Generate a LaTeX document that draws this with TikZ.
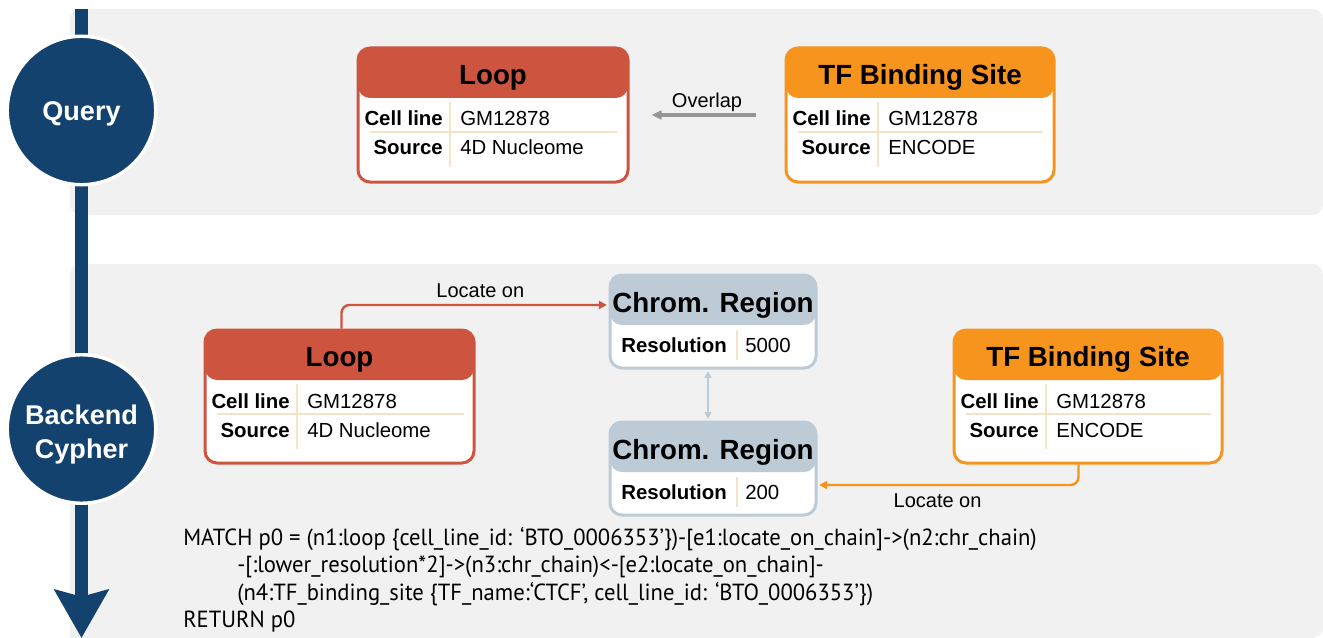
\documentclass[tikz,border=0pt]{standalone}
\usepackage{fontspec}
\setmainfont{Liberation Sans}
\newfontfamily\cypherfont[FakeStretch=0.97]{PT Sans}
\usetikzlibrary{arrows.meta, positioning}

\definecolor{navy}{RGB}{20,66,110}
\definecolor{looprd}{RGB}{205,85,64}
\definecolor{tforg}{RGB}{247,148,30}
\definecolor{chromgr}{RGB}{188,203,214}
\definecolor{panelgr}{RGB}{241,241,241}
\definecolor{rulebg}{RGB}{242,228,196}
\definecolor{overgr}{RGB}{150,150,150}

\begin{document}
\begin{tikzpicture}[x=0.75pt, y=-0.75pt,
  entity/.style={draw=#1, fill=white, line width=2.25pt, rounded corners=9pt, inner sep=0pt,
    path picture={\fill[#1] (path picture bounding box.north west) rectangle ([yshift=-37.5pt]path picture bounding box.north east);}},
  headtext/.style={anchor=base, inner sep=0pt, font=\fontsize{20.8}{24}\selectfont\bfseries},
  keytext/.style={anchor=base east, inner sep=0pt, font=\fontsize{15.3}{18}\selectfont\bfseries},
  valtext/.style={anchor=base west, inner sep=0pt, font=\fontsize{15.3}{18}\selectfont},
  rowrule/.style={draw=rulebg, line width=1pt},
  stagedot/.style={circle, fill=navy, draw=white, line width=2.6pt, minimum size=111.4pt, inner sep=0pt},
  dotlabel/.style={text=white, align=center, inner sep=0pt, font=\fontsize{20.3}{26}\selectfont\bfseries},
  linklabel/.style={font=\fontsize{15}{18}\selectfont, text depth=0pt, inner sep=4.5pt},
  locate/.style={draw=#1, line width=1.8pt, rounded corners=6pt, -{Triangle[length=6pt,width=6pt]}},
  cyphertext/.style={anchor=base west, inner sep=0pt, font=\cypherfont\fontsize{17.5}{20}\selectfont}]
\useasboundingbox (0,0) rectangle (1323,638);

% panels
\fill[panelgr, rounded corners=8pt] (70,9) rectangle (1323,215);
\fill[panelgr, rounded corners=8pt] (70,638) -- (70,264) -- (1323,264) -- (1323,638) [sharp corners] -- cycle;

% time line
\draw[navy, line width=9.75pt, -{Stealth[length=36pt,width=40pt,inset=5pt]}] (81.5,9) -- (81.5,638);
\node[stagedot] (query) at (81.5,110.5) {};
\node[dotlabel] at ([yshift=-2.5pt]query.center) {Query};
\node[stagedot] (backend) at (81.5,429) {};
\node[dotlabel] at ([yshift=-4pt]backend.center) {Backend\\Cypher};

% query
\node[entity=looprd, minimum width=202.5pt, minimum height=100.5pt] (loopq) at (493,115) {};
\node[headtext] at (493,85) {Loop};
\node[keytext] at (443,126) {Cell line};
\node[valtext] at (460,126) {GM12878};
\node[keytext] at (443,155) {Source};
\node[valtext] at (460,155) {4D Nucleome};
\draw[rowrule] (450,102) -- (450,167);
\draw[rowrule] (370,132) -- (617,132);

\node[entity=tforg, minimum width=201pt, minimum height=100.5pt] (tfq) at (920,115) {};
\node[headtext] at (920,85) {TF Binding Site};
\node[keytext] at (871,126) {Cell line};
\node[valtext] at (888,126) {GM12878};
\node[keytext] at (871,155) {Source};
\node[valtext] at (888,155) {ENCODE};
\draw[rowrule] (878,102) -- (878,167);
\draw[rowrule] (798,132) -- (1043,132);

\draw[draw=overgr, line width=2.5pt, -{Triangle[length=7.5pt,width=6.5pt]}, shorten <=21.75pt, shorten >=16.5pt]
  (tfq.west) -- node[linklabel, above] {Overlap} (loopq.east);

% backend
\node[entity=looprd, minimum width=201.75pt, minimum height=99.75pt] (loopb) at (339.5,396.5) {};
\node[headtext] at (339.5,366) {Loop};
\node[keytext] at (290,408) {Cell line};
\node[valtext] at (307,408) {GM12878};
\node[keytext] at (290,437) {Source};
\node[valtext] at (307,437) {4D Nucleome};
\draw[rowrule] (297,384) -- (297,449);
\draw[rowrule] (217,414) -- (464,414);

\node[entity=tforg, minimum width=201pt, minimum height=99.75pt] (tfb) at (1088,396.5) {};
\node[headtext] at (1088,366) {TF Binding Site};
\node[keytext] at (1039,408) {Cell line};
\node[valtext] at (1056,408) {GM12878};
\node[keytext] at (1039,437) {Source};
\node[valtext] at (1056,437) {ENCODE};
\draw[rowrule] (1046,384) -- (1046,449);
\draw[rowrule] (966,414) -- (1211,414);

\node[entity=chromgr, minimum width=154.5pt, minimum height=69.75pt] (chromhi) at (713,321.5) {};
\node[headtext] at (713,312) {Chrom. Region};
\node[keytext] at (727,352) {Resolution};
\node[valtext] at (745,352) {5000};
\draw[rowrule] (737,330) -- (737,360);

\node[entity=chromgr, minimum width=154.5pt, minimum height=69.75pt] (chromlo) at (713,468.5) {};
\node[headtext] at (713,459) {Chrom. Region};
\node[keytext] at (727,499) {Resolution};
\node[valtext] at (745,499) {200};
\draw[rowrule] (737,477) -- (737,507);

\draw[chromgr, line width=1.5pt, {Triangle[length=5pt,width=5pt]}-{Triangle[length=5pt,width=5pt]}, shorten <=1.2pt, shorten >=1.2pt]
  ([xshift=-3.75pt]chromhi.south) -- ([xshift=-3.75pt]chromlo.north);

\draw[locate=looprd, shorten >=1.2pt] ([xshift=103.5pt]loopb.north west) |- node[linklabel, above, pos=0.76, text=black] {Locate on} ([yshift=12.4pt]chromhi.west);
\draw[locate=tforg, shorten >=1.2pt] ([xshift=94.5pt]tfb.south west) |- node[linklabel, below, inner sep=6pt, pos=0.77, text=black] {Locate on} ([yshift=-12.4pt]chromlo.east);

% cypher text
\node[cyphertext] (match) at (183,545) {MATCH p0 = (n1:loop \{cell\_line\_id: ‘BTO\_0006353’\})-[e1:locate\_on\_chain]->(n2:chr\_chain)};
\node[cyphertext] (hops) at (237,572) {-[:lower\_resolution*2]->(n3:chr\_chain)<-[e2:locate\_on\_chain]-};
\node[cyphertext] (tfmatch) at (237,600) {(n4:TF\_binding\_site \{TF\_name:‘CTCF’, cell\_line\_id: ‘BTO\_0006353’\})};
\node[cyphertext] (ret) at (183,627) {RETURN p0};
\end{tikzpicture}
\end{document}
